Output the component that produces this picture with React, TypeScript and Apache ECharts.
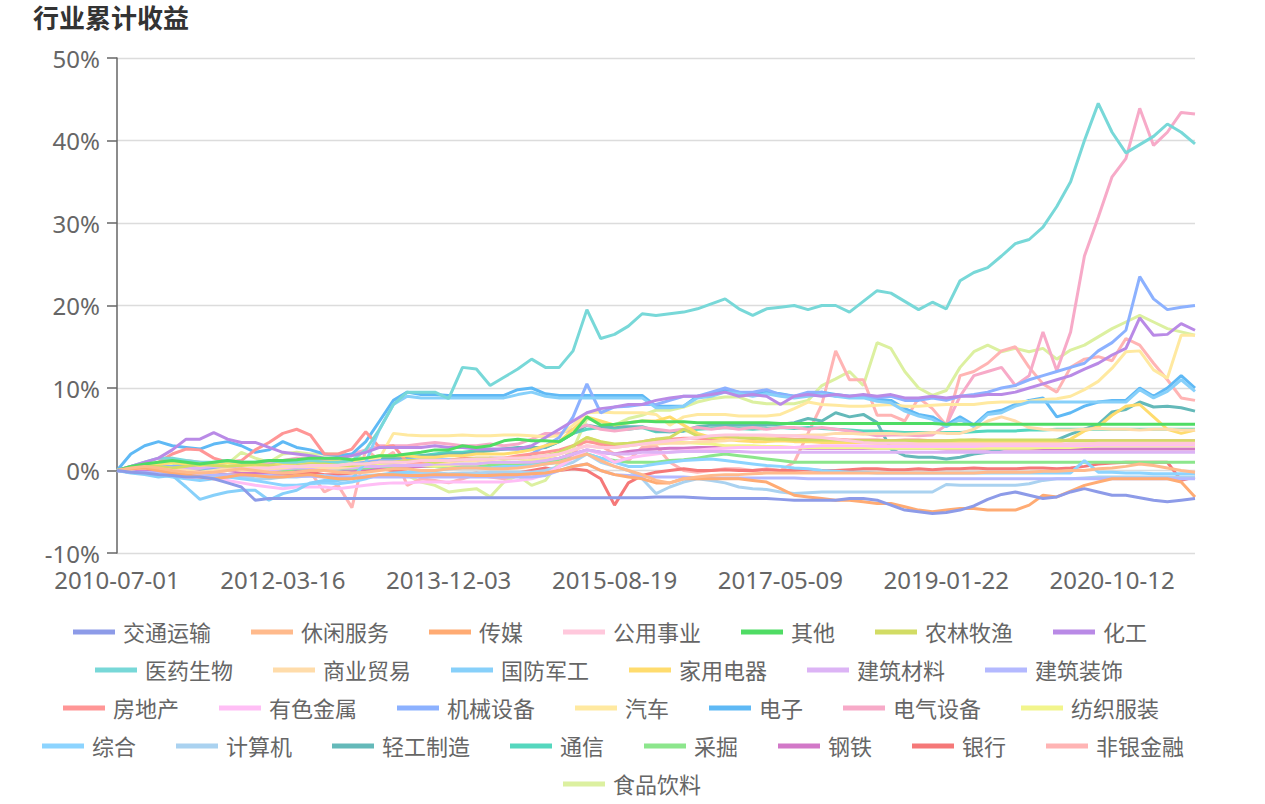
import React, { useEffect, useRef } from "react";
import * as echarts from "echarts";

const TICK_DATES = ["2010-07-01", "2012-03-16", "2013-12-03", "2015-08-19", "2017-05-09", "2019-01-22", "2020-10-12"];
const STEPS_PER_TICK = 12;
const TAIL_STEPS = 6;

const NAMES = ["交通运输", "休闲服务", "传媒", "公用事业", "其他", "农林牧渔", "化工", "医药生物", "商业贸易", "国防军工", "家用电器", "建筑材料", "建筑装饰", "房地产", "有色金属", "机械设备", "汽车", "电子", "电气设备", "纺织服装", "综合", "计算机", "轻工制造", "通信", "采掘", "钢铁", "银行", "非银金融", "食品饮料"];

const COLORS = ["#8d9be8", "#ffba8c", "#ffab73", "#ffc8dc", "#4fdc64", "#d2dc64", "#b98ae6", "#78d8d8", "#ffdcaa", "#87d0fa", "#ffdc6e", "#dcb4f5", "#b4b9ff", "#ff9696", "#ffbef5", "#8cb1ff", "#ffe9a0", "#5fb9f5", "#f7aac8", "#f2f58c", "#8cd4ff", "#aad2f0", "#64b9b9", "#55d7be", "#8ce68c", "#d278c8", "#f57878", "#ffb4b4", "#dcf0a0"];

const LEGEND_ROWS = [
  ["交通运输", "休闲服务", "传媒", "公用事业", "其他", "农林牧渔", "化工"],
  ["医药生物", "商业贸易", "国防军工", "家用电器", "建筑材料", "建筑装饰"],
  ["房地产", "有色金属", "机械设备", "汽车", "电子", "电气设备", "纺织服装"],
  ["综合", "计算机", "轻工制造", "通信", "采掘", "钢铁", "银行", "非银金融"],
  ["食品饮料"],
];
const LEGEND_LEFT = [73, 95, 63, 42, 563];

const jtys = [0, -0.2, -0.3, -0.5, -0.6, -0.8, -0.8, -1.0, -1.5, -2.0,
  -3.6, -3.4, -3.4, -3.4, -3.4, -3.4, -3.4, -3.4, -3.4, -3.4,
  -3.4, -3.4, -3.4, -3.4, -3.4, -3.3, -3.3, -3.3, -3.3, -3.3,
  -3.3, -3.3, -3.3, -3.3, -3.3, -3.3, -3.3, -3.3, -3.3, -3.2,
  -3.2, -3.2, -3.3, -3.4, -3.4, -3.4, -3.4, -3.4, -3.5, -3.6,
  -3.6, -3.6, -3.6, -3.4, -3.4, -3.6, -4.2, -4.8, -5.0, -5.2,
  -5.1, -4.8, -4.3, -3.5, -2.9, -2.6, -3.0, -3.4, -3.2, -2.6,
  -2.2, -2.6, -3.0, -3.0, -3.3, -3.6, -3.8, -3.6, -3.4];
const xxfw = [0, 0.3, 0.5, 0.3, 0.0, -0.2, -0.3, -0.2, 0.0, 0.2,
  0.0, -0.2, -0.3, -0.2, 0.0, 0.0, -0.2, -0.3, -0.2, 0.0,
  0.2, 0.2, 0.0, 0.0, 0.2, 0.3, 0.3, 0.2, 0.2, 0.3,
  0.5, 0.8, 1.0, 1.5, 2.0, 1.2, 0.5, 0.0, -0.5, -1.2,
  -1.5, -1.0, -0.8, -0.6, -0.5, -0.5, -0.4, -0.3, -0.3, -0.3,
  -0.3, -0.3, -0.3, -0.3, -0.3, -0.3, -0.3, -0.3, -0.3, -0.3,
  -0.3, -0.3, -0.3, -0.2, -0.2, -0.2, -0.2, -0.1, -0.1, 0.0,
  0.0, 0.2, 0.3, 0.5, 0.8, 0.6, 0.3, 0.0, -0.2];
const cm = [0, 0.2, 0.3, 0.0, -0.3, -0.5, -0.8, -1.0, -0.8, -0.5,
  -0.6, -0.8, -0.8, -0.6, -0.5, -0.8, -1.0, -1.0, -0.8, -0.5,
  -0.5, -0.6, -0.6, -0.5, -0.5, -0.5, -0.6, -0.6, -0.5, -0.5,
  -0.4, -0.3, 0.0, 0.5, 0.8, 0.0, -0.5, -0.8, -1.0, -1.5,
  -1.5, -1.0, -1.0, -1.0, -1.0, -1.0, -1.2, -1.4, -2.2, -3.0,
  -3.2, -3.4, -3.6, -3.6, -3.8, -4.0, -4.0, -4.4, -4.8, -5.0,
  -4.8, -4.6, -4.6, -4.8, -4.8, -4.8, -4.2, -3.0, -3.2, -2.5,
  -1.8, -1.4, -1.0, -1.0, -1.0, -1.0, -1.0, -1.4, -3.2];
const gysy = [0, 0.2, 0.3, 0.2, 0.0, -0.2, -0.3, -0.2, 0.0, 0.2,
  0.3, 0.3, 0.5, 0.5, 0.6, 0.6, 0.6, 0.8, 0.8, 1.0,
  1.0, 1.0, 1.2, 1.2, 1.2, 1.3, 1.4, 1.4, 1.5, 1.5,
  1.6, 1.8, 2.0, 2.5, 3.0, 2.8, 2.8, 3.0, 3.2, 3.4,
  3.6, 3.8, 4.0, 4.2, 4.3, 4.3, 4.3, 4.3, 4.2, 4.2,
  4.1, 4.0, 3.8, 3.6, 3.4, 3.3, 3.3, 3.3, 3.2, 3.2,
  3.2, 3.2, 3.2, 3.2, 3.2, 3.2, 3.2, 3.2, 3.2, 3.2,
  3.2, 3.3, 3.3, 3.3, 3.3, 3.3, 3.3, 3.3, 3.3];
const qt = [0, 0.5, 0.8, 1.0, 1.2, 1.0, 0.8, 1.0, 1.2, 1.0,
  1.0, 1.2, 1.2, 1.3, 1.5, 1.5, 1.5, 1.3, 1.5, 1.8,
  1.8, 2.0, 2.2, 2.5, 2.5, 3.0, 2.8, 3.0, 3.6, 3.8,
  3.6, 3.6, 3.5, 4.5, 6.5, 5.5, 5.6, 5.8, 6.0, 5.9,
  5.9, 5.9, 5.8, 5.8, 5.8, 5.8, 5.8, 5.8, 5.7, 5.7,
  5.7, 5.7, 5.7, 5.7, 5.7, 5.7, 5.7, 5.7, 5.7, 5.7,
  5.6, 5.6, 5.6, 5.6, 5.6, 5.6, 5.6, 5.6, 5.6, 5.6,
  5.6, 5.6, 5.6, 5.6, 5.6, 5.6, 5.6, 5.6, 5.6];
const nlmy = [0, 0.3, 0.5, 0.5, 0.3, 0.5, 0.8, 0.6, 0.5, 0.6,
  0.8, 0.6, 0.5, 0.6, 0.8, 0.8, 0.6, 0.6, 0.8, 1.0,
  1.0, 1.2, 1.2, 1.0, 1.2, 1.3, 1.5, 1.5, 1.4, 1.5,
  1.6, 1.8, 2.2, 3.0, 4.0, 3.5, 3.2, 3.3, 3.5, 3.8,
  4.0, 5.0, 4.2, 4.0, 4.2, 4.0, 3.9, 3.8, 3.8, 3.7,
  3.7, 3.7, 3.7, 3.6, 3.6, 3.6, 3.6, 3.6, 3.6, 3.6,
  3.6, 3.7, 3.7, 3.7, 3.7, 3.7, 3.7, 3.7, 3.7, 3.6,
  3.6, 3.6, 3.6, 3.6, 3.6, 3.6, 3.6, 3.6, 3.6];
const hg = [0, 0.5, 1.0, 1.5, 2.5, 3.8, 3.8, 4.6, 3.8, 3.4,
  3.4, 2.8, 2.2, 2.0, 1.8, 1.5, 1.5, 1.8, 2.2, 2.8,
  2.8, 2.8, 2.8, 3.0, 2.8, 2.8, 2.6, 2.6, 2.6, 2.6,
  3.0, 4.0, 5.0, 6.0, 7.0, 7.5, 7.7, 8.0, 8.0, 8.5,
  8.8, 9.0, 9.0, 9.2, 9.5, 9.0, 9.2, 9.0, 8.0, 9.0,
  9.2, 9.0, 9.2, 9.0, 9.2, 9.0, 9.2, 8.8, 8.8, 9.0,
  8.8, 9.0, 9.0, 9.2, 9.2, 9.5, 10.0, 10.5, 11.0, 11.5,
  12.3, 13.0, 14.0, 14.8, 18.5, 16.4, 16.5, 17.8, 17.0];
const yysw = [0, 0.5, 1.0, 1.5, 1.5, 1.2, 1.0, 1.0, 1.2, 1.0,
  1.0, 1.2, 1.0, 1.0, 1.2, 1.0, 1.0, 1.2, 2.5, 5.0,
  8.0, 9.5, 9.5, 9.5, 8.7, 12.5, 12.3, 10.3, 11.3, 12.3,
  13.5, 12.5, 12.5, 14.5, 19.5, 16.0, 16.5, 17.5, 19.0, 18.8,
  19.0, 19.2, 19.6, 20.2, 20.8, 19.6, 18.8, 19.6, 19.8, 20.0,
  19.5, 20.0, 20.0, 19.2, 20.5, 21.8, 21.5, 20.5, 19.5, 20.4,
  19.6, 23.0, 24.0, 24.6, 26.0, 27.5, 28.0, 29.5, 32.0, 35.0,
  40.0, 44.5, 41.0, 38.5, 39.5, 40.5, 42.0, 41.0, 39.6];
const symy = [0, 0.3, 0.5, 0.3, 0.2, 0.0, -0.2, 0.0, 0.2, 0.0,
  0.0, 0.2, 0.3, 0.5, 0.5, 0.3, 0.3, 0.5, 0.8, 1.0,
  1.0, 1.2, 1.2, 1.0, 1.0, 1.2, 1.2, 1.3, 1.5, 1.5,
  1.5, 1.6, 2.0, 2.5, 3.0, 2.8, 2.8, 3.0, 3.2, 3.2,
  3.3, 3.3, 3.5, 3.5, 3.6, 3.8, 4.0, 4.0, 4.2, 4.2,
  4.3, 4.3, 4.5, 4.5, 4.4, 4.5, 4.5, 4.4, 4.5, 4.6,
  4.5, 4.5, 5.0, 6.0, 6.5, 6.0, 5.2, 5.0, 4.9, 4.9,
  5.0, 5.1, 5.0, 5.0, 4.9, 5.0, 5.0, 4.9, 4.9];
const gfjg = [0, -0.3, -0.5, -0.8, -0.6, -2.0, -3.5, -3.0, -2.6, -2.4,
  -2.4, -3.6, -2.8, -2.4, -1.5, -1.2, -1.2, -1.0, 1.0, 5.0,
  8.0, 9.0, 8.8, 8.8, 8.8, 8.8, 8.8, 8.8, 8.8, 9.2,
  9.5, 9.0, 8.8, 8.8, 8.8, 8.8, 8.8, 8.8, 8.8, 7.6,
  7.6, 7.8, 8.8, 9.0, 9.5, 9.3, 9.0, 9.3, 9.0, 8.8,
  9.0, 9.2, 9.0, 8.8, 8.8, 8.4, 8.2, 7.2, 6.6, 6.2,
  5.3, 6.2, 5.3, 6.8, 7.0, 7.8, 8.3, 8.3, 8.3, 8.3,
  8.3, 8.3, 8.3, 8.3, 9.8, 8.8, 9.6, 11.0, 9.6];
const jydq = [0, 0.2, 0.5, 0.8, 1.0, 0.8, 0.6, 0.8, 1.0, 0.8,
  0.6, 0.6, 0.8, 1.0, 1.0, 1.0, 1.2, 1.2, 1.5, 1.8,
  1.8, 1.8, 1.6, 1.6, 1.8, 1.8, 2.0, 2.0, 2.0, 2.2,
  2.5, 3.0, 3.5, 5.0, 6.5, 6.0, 5.5, 5.8, 6.0, 6.0,
  6.5, 5.5, 4.5, 4.0, 3.8, 3.6, 3.5, 3.5, 3.6, 3.5,
  3.5, 3.4, 3.4, 3.4, 3.4, 3.3, 3.3, 3.3, 3.4, 3.4,
  3.4, 3.4, 3.4, 3.4, 3.4, 3.4, 3.4, 3.4, 3.4, 3.8,
  4.8, 5.3, 6.7, 7.8, 8.0, 6.5, 5.0, 4.5, 4.9];
const jzcl = [0, 0.2, 0.3, 0.5, 0.3, 0.2, 0.3, 0.5, 0.3, 0.2,
  0.0, 0.0, 0.2, 0.3, 0.3, 0.2, 0.3, 0.3, 0.5, 0.5,
  0.6, 0.6, 0.6, 0.8, 0.8, 0.8, 0.8, 1.0, 1.0, 1.0,
  1.0, 1.2, 1.5, 2.0, 2.5, 2.2, 2.0, 2.0, 2.2, 2.2,
  2.2, 2.3, 2.3, 2.3, 2.3, 2.3, 2.2, 2.2, 2.2, 2.2,
  2.2, 2.2, 2.2, 2.2, 2.2, 2.2, 2.2, 2.2, 2.2, 2.2,
  2.2, 2.2, 2.2, 2.2, 2.2, 2.2, 2.2, 2.2, 2.2, 2.2,
  2.2, 2.2, 2.2, 2.2, 2.2, 2.2, 2.2, 2.2, 2.2];
const jzzs = [0, -0.2, -0.2, -0.3, -0.3, -0.4, -0.5, -0.5, -0.5, -0.6,
  -0.6, -0.6, -0.7, -0.7, -0.7, -0.8, -0.8, -0.8, -0.8, -0.8,
  -0.8, -0.8, -0.8, -0.8, -0.8, -0.8, -0.8, -0.8, -0.8, -0.8,
  -0.8, -0.6, 0.0, 0.5, 0.8, 0.0, -0.5, -0.6, -0.7, -0.8,
  -0.8, -0.8, -0.9, -0.9, -0.9, -0.9, -0.9, -0.9, -0.9, -0.9,
  -1.0, -1.0, -1.0, -1.0, -1.0, -1.0, -1.0, -1.0, -1.0, -1.0,
  -1.0, -1.0, -1.0, -1.0, -1.0, -1.0, -1.0, -1.0, -1.0, -1.0,
  -1.0, -1.0, -1.0, -1.0, -1.0, -1.0, -1.0, -1.0, -1.0];
const fdc = [0, 0.3, 0.5, 1.0, 2.0, 2.6, 2.5, 1.5, 1.0, 1.2,
  2.5, 3.4, 4.5, 5.0, 4.3, 2.0, 2.0, 2.6, 4.7, 2.8,
  3.0, 1.0, 1.0, 1.0, 1.2, 1.5, 1.5, 1.5, 1.5, 1.8,
  2.0, 2.2, 2.5, 3.0, 3.5, 3.2, 3.0, 3.2, 3.5, 3.8,
  3.8, 3.9, 3.9, 3.8, 3.9, 3.9, 3.8, 3.9, 3.9, 3.8,
  3.8, 3.9, 3.8, 3.7, 3.7, 3.7, 3.6, 3.7, 3.7, 3.6,
  3.6, 3.6, 3.7, 3.6, 3.5, 3.5, 3.5, 3.6, 3.6, 3.6,
  3.6, 3.6, 3.6, 3.6, 3.6, 3.6, 3.6, 3.6, 3.6];
const ysjs = [0, -0.2, -0.3, -0.5, -0.5, -0.8, -0.8, -1.0, -1.2, -1.5,
  -1.8, -2.0, -2.2, -2.0, -2.0, -2.0, -2.2, -2.0, -1.8, -1.6,
  -1.5, -1.5, -1.4, -1.4, -1.4, -1.4, -1.4, -1.4, -1.4, -1.2,
  -1.0, -0.5, 0.5, 1.5, 2.5, 2.0, 1.0, 1.5, 1.8, 2.0,
  2.2, 2.4, 2.5, 2.6, 2.7, 2.8, 2.8, 2.8, 2.8, 2.8,
  2.9, 3.0, 3.0, 3.0, 3.0, 2.9, 2.9, 2.9, 2.9, 2.9,
  2.9, 2.9, 2.9, 3.0, 3.0, 3.0, 3.0, 3.0, 3.0, 3.0,
  3.0, 3.1, 3.1, 3.1, 3.1, 3.1, 3.1, 3.1, 3.1];
const jxsb = [0, 0.2, 0.3, 0.5, 0.5, 0.5, 0.3, 0.2, 0.3, 0.2,
  0.0, 0.0, 0.3, 0.5, 0.5, 0.5, 0.5, 0.8, 1.0, 1.2,
  1.2, 1.3, 1.3, 1.3, 1.3, 1.2, 1.2, 1.5, 1.5, 1.5,
  2.0, 3.0, 4.0, 6.5, 10.5, 7.0, 7.7, 7.8, 8.0, 8.0,
  8.5, 9.0, 9.0, 9.5, 10.0, 9.5, 9.5, 9.8, 9.2, 9.0,
  9.5, 9.5, 9.0, 9.0, 9.0, 8.8, 9.0, 8.5, 8.5, 8.8,
  8.5, 9.0, 9.2, 9.5, 10.0, 10.3, 11.0, 11.5, 12.0, 12.5,
  13.0, 14.5, 15.5, 17.0, 23.5, 20.8, 19.5, 19.8, 20.0];
const qc = [0, 0.3, 0.5, 0.5, 0.5, 0.3, 0.3, 0.5, 0.5, 0.3,
  0.3, 0.5, 0.8, 0.8, 0.8, 0.8, 0.8, 1.0, 1.2, 1.5,
  4.5, 4.3, 4.2, 4.2, 4.2, 4.3, 4.2, 4.2, 4.3, 4.3,
  4.2, 4.1, 4.2, 5.5, 7.0, 7.1, 7.0, 7.0, 7.0, 6.8,
  5.5, 6.5, 6.8, 6.8, 6.8, 6.6, 6.6, 6.6, 6.8, 7.5,
  8.3, 8.0, 7.9, 7.8, 7.8, 7.9, 8.0, 7.8, 7.8, 7.9,
  8.0, 8.0, 8.0, 8.2, 8.3, 8.3, 8.4, 8.6, 8.7, 9.0,
  9.8, 10.8, 12.4, 14.4, 14.5, 12.2, 11.2, 16.4, 16.4];
const dz = [0, 2.0, 3.0, 3.5, 3.0, 2.8, 2.6, 3.2, 3.5, 3.0,
  2.2, 2.5, 3.5, 2.8, 2.5, 2.0, 1.8, 2.0, 3.5, 6.0,
  8.5, 9.5, 9.2, 9.2, 9.1, 9.1, 9.1, 9.1, 9.1, 9.8,
  10.0, 9.3, 9.1, 9.1, 9.1, 9.1, 9.1, 9.1, 9.1, 7.8,
  7.8, 7.8, 9.0, 9.2, 9.8, 9.5, 9.2, 9.5, 9.3, 9.0,
  9.2, 9.5, 9.2, 9.0, 9.1, 8.6, 8.5, 7.5, 6.8, 6.5,
  5.5, 6.5, 5.5, 7.0, 7.3, 8.0, 8.5, 8.8, 6.5, 7.0,
  7.8, 8.3, 8.5, 8.5, 10.0, 9.0, 10.0, 11.5, 10.0];
const dqsb = [0, 0.3, 0.5, 0.8, 1.0, 1.2, 1.0, 0.8, 1.0, 1.0,
  0.8, 1.0, 1.2, 1.5, 1.5, 1.2, 1.5, 2.0, 2.5, 3.0,
  3.0, 3.0, 3.2, 3.4, 3.2, 3.0, 3.0, 3.2, 3.0, 3.2,
  3.8, 4.5, 4.5, 5.0, 5.5, 5.0, 4.8, 5.0, 5.2, 5.0,
  4.8, 5.0, 5.2, 5.0, 5.2, 5.0, 5.2, 5.0, 5.2, 5.2,
  5.0, 5.2, 5.0, 4.8, 4.5, 4.2, 4.3, 4.3, 4.2, 4.3,
  5.5, 9.0, 11.5, 12.0, 12.5, 10.3, 11.5, 16.8, 12.1, 16.8,
  26.0, 30.7, 35.6, 37.8, 43.9, 39.4, 41.0, 43.4, 43.2];
const fzfz = [0, 0.3, 0.5, 0.8, 0.6, 0.5, 0.3, 0.5, 0.6, 0.5,
  0.3, 0.3, 0.5, 0.6, 0.6, 0.5, 0.5, 0.6, 0.8, 0.8,
  0.8, 0.6, 0.6, 0.5, 0.6, 0.8, 0.8, 1.0, 1.0, 1.0,
  1.2, 1.5, 2.0, 3.0, 4.0, 3.5, 3.0, 3.0, 3.2, 3.5,
  3.5, 3.4, 3.3, 3.2, 3.0, 3.0, 3.0, 2.9, 2.9, 2.8,
  2.8, 2.8, 2.8, 2.8, 2.8, 2.7, 2.7, 2.7, 2.7, 2.7,
  2.7, 2.7, 2.7, 2.7, 2.7, 2.7, 2.7, 2.8, 2.8, 2.8,
  2.9, 3.0, 3.0, 3.0, 3.0, 3.0, 3.0, 3.0, 3.0];
const zh = [0, -0.2, -0.3, -0.5, -0.8, -1.0, -1.2, -1.0, -0.8, -1.0,
  -1.2, -1.5, -1.8, -1.8, -1.6, -1.5, -1.6, -1.4, -1.0, -0.5,
  -0.3, -0.2, 0.0, 0.0, 0.2, 0.3, 0.3, 0.3, 0.5, 0.5,
  0.6, 0.8, 1.0, 1.5, 2.0, 1.5, 1.0, 0.5, 0.5, 0.8,
  1.0, 1.2, 1.3, 1.4, 1.2, 1.0, 0.8, 0.6, 0.5, 0.3,
  0.2, 0.0, -0.1, -0.2, -0.2, -0.3, -0.3, -0.3, -0.3, -0.3,
  -0.3, -0.3, -0.3, -0.3, -0.3, -0.3, -0.3, -0.3, -0.3, -0.3,
  1.2, -0.2, -0.2, -0.3, -0.3, -0.4, -0.4, -0.4, -0.4];
const jsj = [0, -0.2, -0.3, -0.5, -0.5, -0.6, -0.8, -0.6, -0.6, -0.8,
  -1.0, -1.0, -0.8, -0.8, -0.6, -0.6, -0.8, -0.8, -0.6, -0.5,
  -0.5, -0.4, -0.3, -0.3, -0.4, -0.3, -0.3, -0.2, -0.2, -0.2,
  -0.2, 0.0, 0.5, 1.0, 2.0, 1.0, 0.5, 0.0, -1.0, -2.8,
  -2.0, -1.4, -1.0, -1.2, -1.5, -2.0, -2.2, -2.3, -2.6, -2.8,
  -2.7, -2.6, -2.6, -2.6, -2.6, -2.6, -2.6, -2.6, -2.6, -2.6,
  -1.7, -1.8, -1.8, -1.8, -1.8, -1.8, -1.6, -1.2, -1.0, -1.0,
  -0.9, -0.8, -0.8, -0.8, -0.8, -0.8, -0.8, -0.8, -0.8];
const qgzz = [0, 0.3, 0.5, 0.5, 0.8, 0.6, 0.5, 0.5, 0.6, 0.5,
  0.5, 0.6, 0.8, 0.8, 0.6, 0.8, 0.8, 1.0, 1.2, 1.5,
  1.5, 1.5, 1.8, 1.8, 2.0, 2.0, 2.2, 2.4, 2.6, 2.8,
  2.8, 2.8, 3.5, 4.5, 5.5, 5.2, 5.3, 5.3, 5.3, 4.8,
  4.7, 4.8, 5.3, 5.5, 5.5, 5.5, 5.5, 5.5, 5.6, 5.8,
  6.3, 6.0, 7.0, 6.5, 6.8, 5.8, 2.6, 1.8, 1.6, 1.6,
  1.4, 1.6, 2.0, 2.2, 2.6, 3.0, 3.4, 3.5, 3.7, 4.4,
  5.0, 5.6, 7.1, 7.4, 8.3, 7.7, 7.8, 7.6, 7.2];
const tx = [0, 0.2, 0.5, 0.8, 0.6, 0.5, 0.6, 0.8, 0.5, 0.6,
  0.8, 0.8, 1.0, 1.0, 1.2, 1.2, 1.2, 1.0, 1.2, 1.5,
  1.6, 1.8, 1.8, 2.0, 2.2, 2.2, 2.4, 2.5, 2.6, 2.6,
  2.6, 2.8, 3.5, 4.5, 5.0, 5.2, 5.0, 5.0, 5.2, 4.7,
  4.7, 4.8, 5.0, 5.1, 5.2, 5.1, 5.0, 5.1, 5.2, 5.1,
  5.2, 5.1, 5.0, 4.9, 4.8, 4.8, 4.7, 4.6, 4.6, 4.6,
  4.6, 4.6, 4.7, 4.8, 4.8, 4.8, 4.9, 4.9, 5.0, 5.0,
  5.0, 5.0, 5.0, 5.0, 5.0, 5.0, 5.0, 5.0, 5.0];
const cj = [0, 0.2, 0.3, 0.5, 0.5, 0.3, 0.2, 0.0, 0.2, 0.3,
  0.3, 0.2, 0.0, 0.2, 0.3, 0.3, 0.2, 0.2, 0.3, 0.5,
  0.5, 0.6, 0.6, 0.5, 0.5, 0.6, 0.6, 0.6, 0.8, 0.8,
  0.8, 1.0, 1.2, 1.5, 2.0, 1.5, 1.2, 1.0, 1.0, 1.0,
  1.2, 1.3, 1.5, 1.8, 2.0, 1.8, 1.6, 1.4, 1.2, 1.0,
  1.0, 1.0, 1.0, 1.0, 1.0, 1.0, 1.0, 1.0, 1.0, 1.0,
  1.0, 1.0, 1.0, 1.0, 1.0, 1.0, 1.0, 1.0, 1.0, 1.0,
  1.0, 1.0, 1.0, 1.0, 1.0, 1.0, 1.0, 1.0, 1.0];
const gt = [0, 0.2, 0.0, -0.2, -0.3, -0.2, 0.0, 0.2, 0.0, -0.2,
  -0.3, -0.3, -0.2, 0.0, 0.0, 0.2, 0.2, 0.0, 0.2, 0.3,
  0.3, 0.5, 0.5, 0.5, 0.6, 0.6, 0.6, 0.8, 0.8, 0.8,
  1.0, 1.2, 1.5, 2.0, 2.5, 2.2, 2.0, 2.3, 2.5, 2.6,
  2.7, 2.7, 2.8, 2.8, 2.8, 2.8, 2.8, 2.8, 2.8, 2.8,
  2.7, 2.7, 2.7, 2.7, 2.7, 2.7, 2.7, 2.7, 2.7, 2.7,
  2.6, 2.6, 2.6, 2.6, 2.6, 2.6, 2.6, 2.6, 2.6, 2.6,
  2.6, 2.6, 2.6, 2.6, 2.6, 2.6, 2.6, 2.6, 2.6];
const yh = [0, -0.2, -0.3, 0.0, 0.5, 0.3, 0.0, -0.3, -0.5, -0.5,
  -0.5, -0.3, -0.5, -0.3, -0.2, -0.5, -0.5, -0.3, 0.0, 0.2,
  0.0, -0.2, -0.3, -0.3, -0.5, -0.5, -0.3, -0.5, -0.5, -0.3,
  0.0, 0.3, 0.0, 0.2, 0.0, -1.0, -4.2, -1.5, -0.6, -0.2,
  0.0, 0.2, 0.0, 0.0, 0.1, 0.0, 0.0, 0.1, 0.0, 0.0,
  0.1, 0.0, 0.0, 0.1, 0.2, 0.2, 0.1, 0.1, 0.2, 0.1,
  0.2, 0.2, 0.3, 0.2, 0.2, 0.2, 0.3, 0.3, 0.2, 0.3,
  0.5, 0.8, 0.9, 1.0, 1.0, 1.0, 1.0, -1.2, -0.8];
const fyjr = [0, 0.3, 0.5, 0.8, 1.5, 0.8, 0.5, 0.3, 0.5, 0.3,
  0.0, -0.3, -0.5, -0.2, -0.2, -2.6, -1.8, -4.5, 2.6, 1.2,
  2.2, -1.8, -1.0, -1.2, -1.5, -1.0, -0.5, -0.8, -1.0, -0.5,
  -0.8, -0.5, 0.5, 2.0, 4.0, 3.0, 2.0, 1.2, 2.8, 3.0,
  1.0, 0.0, -0.2, 0.0, 0.2, 0.2, 0.0, 0.2, 0.0, 1.0,
  4.5, 8.0, 14.5, 11.0, 11.0, 6.7, 6.7, 6.0, 8.8, 7.5,
  5.5, 11.5, 12.0, 13.0, 14.5, 15.0, 12.5, 10.5, 9.5, 12.5,
  13.5, 13.8, 13.3, 16.0, 15.2, 13.0, 11.0, 8.8, 8.5];
const spyl = [0, 0.5, 0.8, 1.0, 1.0, 0.8, 0.6, 0.6, 0.8, 2.2,
  1.5, 1.0, 2.0, 2.2, 2.0, 2.0, 2.0, 1.8, 1.4, 0.8,
  -0.2, -0.6, -1.4, -1.8, -2.6, -2.4, -2.2, -3.2, -1.4, -0.6,
  -1.8, -1.2, 1.0, 2.6, 6.3, 5.9, 5.5, 6.3, 6.7, 7.3,
  7.3, 7.7, 8.3, 8.7, 8.9, 8.9, 8.3, 8.1, 8.1, 8.1,
  8.5, 10.3, 11.1, 12.0, 10.3, 15.5, 14.8, 12.0, 10.0, 9.1,
  9.7, 12.5, 14.4, 15.2, 14.4, 14.8, 14.4, 14.8, 13.5, 14.6,
  15.2, 16.2, 17.2, 18.0, 18.8, 18.0, 17.2, 16.8, 16.4];

const SERIES_VALUES = [jtys, xxfw, cm, gysy, qt, nlmy, hg, yysw, symy, gfjg, jydq, jzcl, jzzs, fdc, ysjs, jxsb, qc, dz, dqsb, fzfz, zh, jsj, qgzz, tx, cj, gt, yh, fyjr, spyl];

const FONT = '"Noto Sans", "Noto Sans CJK SC", sans-serif';

function fmtDate(ms: number): string {
  const d = new Date(ms);
  const y = d.getUTCFullYear();
  const m = String(d.getUTCMonth() + 1).padStart(2, "0");
  const dd = String(d.getUTCDate()).padStart(2, "0");
  return `${y}-${m}-${dd}`;
}

function buildDates(): string[] {
  const ms = TICK_DATES.map((s) => Date.parse(s + "T00:00:00Z"));
  const out: string[] = [];
  for (let a = 0; a < ms.length - 1; a++) {
    out.push(TICK_DATES[a]);
    for (let k = 1; k < STEPS_PER_TICK; k++) {
      const t = ms[a] + ((ms[a + 1] - ms[a]) * k) / STEPS_PER_TICK;
      out.push(fmtDate(Math.round(t / 86400000) * 86400000));
    }
  }
  out.push(TICK_DATES[TICK_DATES.length - 1]);
  const last = ms[ms.length - 1];
  const step = (last - ms[ms.length - 2]) / STEPS_PER_TICK;
  for (let k = 1; k <= TAIL_STEPS; k++) {
    out.push(fmtDate(Math.round((last + step * k) / 86400000) * 86400000));
  }
  return out;
}

export default function App() {
  const ref = useRef<HTMLDivElement>(null);
  useEffect(() => {
    if (!ref.current) return;
    const chart = echarts.init(ref.current, null, { renderer: "svg" });
    const dates = buildDates();
    const option = {
      animation: false,
      title: {
        text: "行业累计收益",
        left: 28,
        top: 0,
        textStyle: { fontSize: 26, fontWeight: "bold", color: "#333", fontFamily: FONT },
      },
      grid: { left: 117, right: 70, top: 58, bottom: 251, containLabel: false },
      xAxis: {
        type: "category",
        data: dates,
        boundaryGap: false,
        axisLine: { show: false },
        axisTick: { show: false },
        splitLine: { show: false },
        axisLabel: {
          interval: (idx: number) => idx % STEPS_PER_TICK === 0 && idx <= (TICK_DATES.length - 1) * STEPS_PER_TICK,
          color: "#666",
          fontSize: 24,
          lineHeight: 20,
          margin: 16,
          fontFamily: FONT,
        },
      },
      yAxis: {
        type: "value",
        min: -10,
        max: 50,
        interval: 10,
        axisLine: { show: true, lineStyle: { color: "#666", width: 1.5 } },
        axisTick: { show: true, length: 10, lineStyle: { color: "#666", width: 1.5 } },
        axisLabel: { formatter: "{value}%", color: "#666", fontSize: 24, lineHeight: 20, margin: 17, fontFamily: FONT },
        splitLine: { show: true, lineStyle: { color: "#dcdcdc", width: 1.4 } },
      },
      legend: LEGEND_ROWS.map((row, r) => ({
        data: row,
        left: LEGEND_LEFT[r],
        top: 621 + r * 38,
        padding: 0,
        orient: "horizontal",
        icon: "rect",
        itemWidth: 42,
        itemHeight: 5,
        itemGap: 40,
        selectedMode: false,
        textStyle: { fontSize: 22, lineHeight: 22, color: "#666", fontFamily: FONT, padding: [0, 0, 0, 3] },
      })),
      series: NAMES.map((name, i) => ({
        name,
        type: "line",
        data: SERIES_VALUES[i],
        symbol: "none",
        showSymbol: false,
        z: 2 + (NAMES.length - i),
        lineStyle: { width: 3, color: COLORS[i] },
        itemStyle: { color: COLORS[i] },
        emphasis: { disabled: true },
      })),
    };
    chart.setOption(option as any);
    return () => chart.dispose();
  }, []);
  return (
    <div
      ref={ref}
      style={{ position: "fixed", left: 0, top: 0, width: 1265, height: 804, background: "#fff" }}
    />
  );
}
